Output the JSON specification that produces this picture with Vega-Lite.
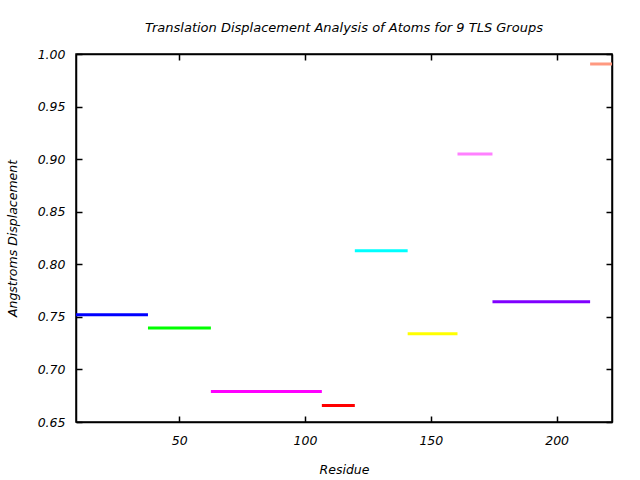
{
  "$schema": "https://vega.github.io/schema/vega-lite/v6.json",
  "autosize": "none",
  "width": 536,
  "height": 368,
  "padding": {"left": 76, "top": 54, "right": 28, "bottom": 58},
  "background": "white",
  "title": {"text": "Translation Displacement Analysis of Atoms for 9 TLS Groups", "font": "DejaVu Sans", "fontStyle": "italic", "fontWeight": "normal", "fontSize": 13, "color": "black", "offset": 13, "anchor": "middle"},
  "config": {
    "view": {"stroke": "black", "strokeWidth": 1.5},
    "axis": {"grid": false, "domainColor": "black", "tickColor": "black", "labelColor": "black", "titleColor": "black", "labelFont": "DejaVu Sans", "titleFont": "DejaVu Sans", "labelFontStyle": "italic", "titleFontStyle": "italic", "titleFontWeight": "normal", "labelFontSize": 12.5, "titleFontSize": 12.5, "tickSize": -6, "tickWidth": 1.5, "domainWidth": 1.5}
  },
  "data": {"values": [
    {"group": "1", "start": 9, "end": 37.6, "value": 0.752},
    {"group": "2", "start": 37.6, "end": 62.6, "value": 0.7395},
    {"group": "3", "start": 62.6, "end": 106.7, "value": 0.679},
    {"group": "4", "start": 106.7, "end": 119.8, "value": 0.6656},
    {"group": "5", "start": 119.8, "end": 140.8, "value": 0.8128},
    {"group": "6", "start": 140.8, "end": 160.6, "value": 0.734},
    {"group": "7", "start": 160.6, "end": 174.5, "value": 0.905},
    {"group": "8", "start": 174.5, "end": 213.3, "value": 0.7644},
    {"group": "9", "start": 213.3, "end": 222, "value": 0.9905}
  ]},
  "resolve": {"axis": {"x": "independent", "y": "independent"}},
  "layer": [
    {
      "mark": {"type": "rule", "strokeWidth": 3, "clip": true},
      "encoding": {
        "x": {"field": "start", "type": "quantitative", "scale": {"domain": [9, 222], "nice": false, "zero": false}, "axis": {"title": "Residue", "values": [50, 100, 150, 200], "labelPadding": 18, "titlePadding": 17}},
        "x2": {"field": "end"},
        "y": {"field": "value", "type": "quantitative", "scale": {"domain": [0.65, 1.0], "nice": false, "zero": false}, "axis": {"title": "Angstroms Displacement", "format": ".2f", "values": [0.65, 0.7, 0.75, 0.8, 0.85, 0.9, 0.95, 1.0], "labelPadding": 17, "titlePadding": 18}},
        "color": {"field": "group", "type": "nominal", "legend": null, "scale": {"domain": ["1","2","3","4","5","6","7","8","9"], "range": ["#0000ff", "#00ff00", "#ff00ff", "#ff0000", "#00ffff", "#ffff00", "#ff80ff", "#8000ff", "#ff9980"]}}
      }
    },
    {
      "mark": {"type": "rule", "strokeWidth": 3, "clip": true, "opacity": 0},
      "encoding": {
        "x": {"field": "start", "type": "quantitative", "scale": {"domain": [9, 222], "nice": false, "zero": false}, "axis": {"orient": "top", "title": null, "labels": false, "values": [50, 100, 150, 200]}},
        "x2": {"field": "end"},
        "y": {"field": "value", "type": "quantitative", "scale": {"domain": [0.65, 1.0], "nice": false, "zero": false}, "axis": {"orient": "right", "title": null, "labels": false, "values": [0.65, 0.7, 0.75, 0.8, 0.85, 0.9, 0.95, 1.0]}}
      }
    }
  ]
}
